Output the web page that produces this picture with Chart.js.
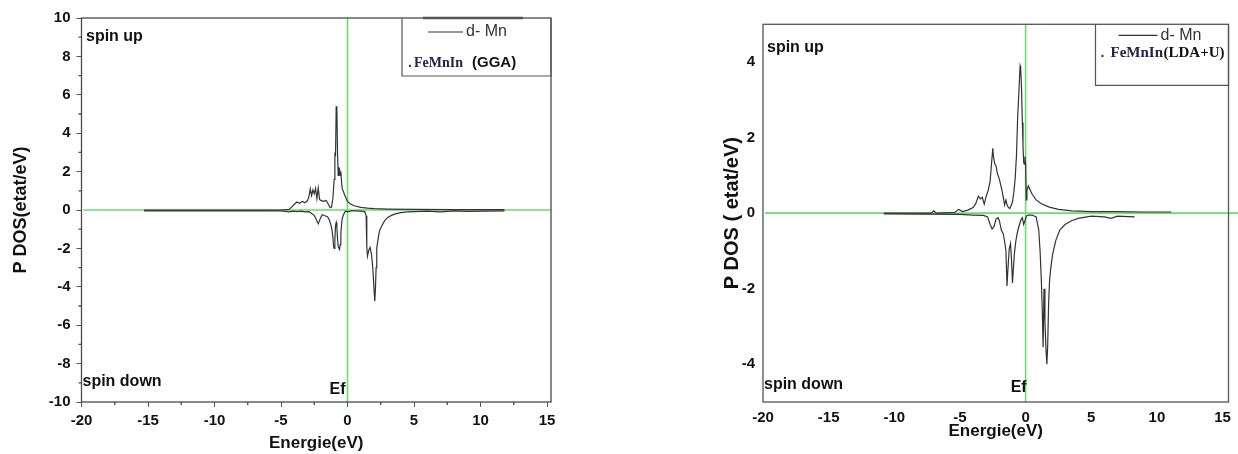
<!DOCTYPE html>
<html>
<head>
<meta charset="utf-8">
<script src="https://cdn.jsdelivr.net/npm/chart.js@4.4.0/dist/chart.umd.min.js"></script>
<style>
  body { margin: 0; background: #fff; }
  .box { position: absolute; top: 0; width: 619px; height: 454px; }
  #left { left: 0; }
  #right { left: 619px; }
</style>
</head>
<body>
<div class="box" id="left"><canvas id="c1" width="619" height="454"></canvas></div>
<div class="box" id="right"><canvas id="c2" width="619" height="454"></canvas></div>
<script>
// ticks
var xTicks = [-20, -15, -10, -5, 0, 5, 10, 15];
var ggaYTicks = [-10, -8, -6, -4, -2, 0, 2, 4, 6, 8, 10];
var ldaYTicks = [-4, -2, 0, 2, 4];

// FeMnIn (GGA) d-Mn, spin up
var ggaUpE = [-15.3, -5.0, -4.4, -4.2, -4.0, -3.8, -3.6, -3.4, -3.2, -3.0,
              -2.9, -2.8, -2.7, -2.6, -2.5, -2.4, -2.3, -2.2, -2.1, -2.0,
              -1.8, -1.6, -1.4, -1.3, -1.2, -1.1, -1.0, -0.95, -0.9, -0.85,
              -0.8, -0.75, -0.7, -0.65, -0.6, -0.55, -0.5, -0.45, -0.4, -0.3,
              -0.2, -0.1, 0.0, 0.2, 0.5, 1.0, 1.5, 2.0, 3.0, 5.0,
              8.0, 11.8];
var ggaUp = [0.0, 0.0, 0.03, 0.15, 0.3, 0.42, 0.35, 0.45, 0.38, 0.5,
             0.7, 1.1, 0.75, 1.05, 0.85, 1.12, 0.6, 1.15, 0.55, 0.5,
             0.45, 0.5, 0.25, 0.12, 0.15, 0.6, 1.6, 3.0, 2.8, 5.4,
             5.2, 3.0, 1.8, 2.2, 2.15, 1.8, 2.0, 1.5, 1.1, 0.95,
             0.75, 0.6, 0.45, 0.32, 0.22, 0.14, 0.1, 0.07, 0.05, 0.03,
             0.02, 0.02];

// FeMnIn (GGA) d-Mn, spin down
var ggaDownE = [-15.3, -5.0, -4.4, -4.1, -3.8, -3.5, -3.2, -2.9, -2.7, -2.5,
                -2.35, -2.2, -2.05, -1.9, -1.7, -1.5, -1.35, -1.2, -1.1, -1.05,
                -1.0, -0.95, -0.9, -0.85, -0.8, -0.75, -0.7, -0.6, -0.55, -0.5,
                -0.45, -0.4, -0.3, -0.2, -0.1, 0.0, 0.3, 0.7, 1.0, 1.3,
                1.4, 1.45, 1.5, 1.6, 1.7, 1.8, 1.9, 2.0, 2.05, 2.1,
                2.15, 2.2, 2.3, 2.4, 2.6, 2.8, 3.0, 3.3, 3.6, 4.0,
                4.5, 5.0, 6.0, 7.0, 8.0, 9.0, 11.8];
var ggaDown = [-0.05, -0.05, -0.1, -0.06, -0.08, -0.06, -0.1, -0.08, -0.18, -0.28,
               -0.5, -0.72, -0.45, -0.25, -0.3, -0.35, -0.55, -0.9, -1.4, -1.9,
               -2.0, -1.5, -0.8, -0.65, -0.9, -1.5, -1.9, -2.05, -1.8, -1.2,
               -0.8, -0.45, -0.25, -0.1, -0.05, -0.1, -0.05, -0.05, -0.06, -0.08,
               -0.3, -1.9, -2.4, -2.1, -1.95, -2.3, -3.0, -4.2, -4.75, -4.1,
               -3.0, -2.0, -1.5, -1.1, -0.8, -0.55, -0.4, -0.28, -0.2, -0.14,
               -0.1, -0.08, -0.06, -0.1, -0.05, -0.07, -0.05];

// FeMnIn (LDA+U) d-Mn, spin up
var ldaUpE = [-10.8, -7.2, -7.0, -6.8, -5.4, -5.1, -4.8, -4.4, -4.0, -3.8,
              -3.6, -3.45, -3.3, -3.15, -3.0, -2.85, -2.7, -2.6, -2.5, -2.45,
              -2.35, -2.25, -2.15, -2.0, -1.9, -1.8, -1.7, -1.6, -1.5, -1.4,
              -1.3, -1.2, -1.1, -1.0, -0.9, -0.8, -0.7, -0.6, -0.5, -0.42,
              -0.38, -0.32, -0.25, -0.2, -0.15, -0.1, -0.05, 0.0, 0.05, 0.1,
              0.2, 0.3, 0.5, 0.8, 1.2, 1.8, 2.5, 3.5, 5.0, 7.0,
              9.0, 11.1];
var ldaUp = [0.0, 0.0, 0.06, 0.0, 0.02, 0.1, 0.04, 0.08, 0.15, 0.25,
             0.45, 0.38, 0.42, 0.24, 0.45, 0.6, 0.85, 1.3, 1.72, 1.5,
             1.3, 1.25, 1.05, 0.9, 0.75, 0.6, 0.42, 0.22, 0.35, 0.2,
             0.15, 0.12, 0.2, 0.3, 0.55, 0.9, 1.5, 2.6, 3.3, 3.9,
             3.85, 3.4, 2.4, 1.8, 1.35, 1.3, 1.5, 1.3, 0.35, 0.6,
             0.72, 0.65, 0.5, 0.35, 0.25, 0.16, 0.1, 0.06, 0.04, 0.04,
             0.03, 0.03];

// FeMnIn (LDA+U) d-Mn, spin down
var ldaDownE = [-10.8, -5.0, -4.0, -3.2, -2.9, -2.7, -2.55, -2.4, -2.25, -2.1,
                -2.0, -1.85, -1.7, -1.6, -1.5, -1.42, -1.35, -1.25, -1.15, -1.08,
                -1.0, -0.92, -0.85, -0.75, -0.65, -0.55, -0.45, -0.35, -0.25, -0.15,
                -0.05, 0.05, 0.2, 0.5, 0.8, 1.0, 1.1, 1.2, 1.27, 1.33,
                1.4, 1.47, 1.55, 1.62, 1.68, 1.75, 1.82, 1.9, 2.05, 2.3,
                2.6, 3.0, 3.5, 4.0, 5.0, 6.0, 6.5, 7.0, 8.3];
var ldaDown = [-0.02, -0.03, -0.05, -0.06, -0.1, -0.3, -0.42, -0.35, -0.15, -0.12,
               -0.2, -0.45, -0.55, -0.75, -1.0, -1.93, -1.5, -0.95, -0.8, -1.2,
               -1.85, -1.4, -1.05, -0.75, -0.55, -0.4, -0.28, -0.17, -0.12, -0.3,
               -0.2, -0.08, -0.05, -0.05, -0.1, -0.45, -1.0, -1.8, -2.6, -3.55,
               -2.0, -2.9, -3.6, -4.0, -3.5, -2.4, -1.8, -1.5, -1.1, -0.72,
               -0.45, -0.3, -0.2, -0.14, -0.08, -0.1, -0.14, -0.08, -0.1];

var sans = '"Liberation Sans", Arial, sans-serif';
var serif = '"Liberation Serif", "Times New Roman", serif';
var green = '#66e066';
var lineCol = '#333';

function pts(e, v) {
    return e.map(function (x, i) { return { x: x, y: v[i] }; });
}

function setTicks(list) {
    return function (scale) {
        scale.ticks = list.map(function (v) { return { value: v }; });
    };
}

// green Ef / zero lines
function refLines(toEdge) {
    return {
        id: 'refLines',
        beforeDatasetsDraw: function (chart) {
            var ctx = chart.ctx, a = chart.chartArea;
            var x0 = chart.scales.x.getPixelForValue(0);
            var y0 = chart.scales.y.getPixelForValue(0);
            ctx.save();
            ctx.strokeStyle = green;
            ctx.lineWidth = 1.6;
            ctx.beginPath();
            ctx.moveTo(x0, a.top);
            ctx.lineTo(x0, a.bottom);
            ctx.moveTo(a.left + 2, y0);
            ctx.lineTo(toEdge ? chart.width : a.right, y0);
            ctx.stroke();
            ctx.restore();
        }
    };
}

// frame, minor ticks, spin labels and legend box
function decor(c) {
    return {
        id: 'decor',
        afterDraw: function (chart) {
            var ctx = chart.ctx, a = chart.chartArea;
            var xs = chart.scales.x, ys = chart.scales.y;
            ctx.save();
            ctx.strokeStyle = c.frame;
            ctx.lineWidth = 1.3;
            ctx.strokeRect(a.left, a.top, a.right - a.left, a.bottom - a.top);

            if (c.yMinor) {
                ctx.beginPath();
                for (var i = 0; i < c.yMinor.length - 1; i++) {
                    var yv = ys.getPixelForValue((c.yMinor[i] + c.yMinor[i + 1]) / 2);
                    ctx.moveTo(a.left - 3, yv); ctx.lineTo(a.left, yv);
                }
                for (var j = 0; j < xTicks.length - 1; j++) {
                    var xv = xs.getPixelForValue((xTicks[j] + xTicks[j + 1]) / 2);
                    ctx.moveTo(xv, a.bottom); ctx.lineTo(xv, a.bottom + 3);
                }
                ctx.stroke();
            }

            ctx.fillStyle = '#111';
            ctx.font = 'bold 16px ' + sans;
            ctx.textBaseline = 'middle';
            ctx.textAlign = 'left';
            ctx.fillText('spin up', a.left + c.upX, a.top + c.upY);
            ctx.fillText('spin down', a.left + c.downX, a.bottom - c.downY);
            ctx.textAlign = 'right';
            ctx.fillText('Ef', xs.getPixelForValue(0) + c.efX, a.bottom - c.efY);

            // legend
            var L = a.right - c.legW, T = a.top, B = a.top + c.legH;
            ctx.strokeStyle = '#555';
            ctx.lineWidth = 1.2;
            ctx.beginPath();
            ctx.moveTo(L, T); ctx.lineTo(L, B); ctx.lineTo(a.right, B); ctx.lineTo(a.right, T);
            ctx.stroke();
            if (c.thickTop) {
                ctx.lineWidth = 2.5;
                ctx.beginPath();
                ctx.moveTo(L + 21, T); ctx.lineTo(L + 121, T);
                ctx.stroke();
            }
            ctx.strokeStyle = lineCol;
            ctx.lineWidth = 1.2;
            ctx.beginPath();
            ctx.moveTo(L + c.s0, T + c.row1); ctx.lineTo(L + c.s1, T + c.row1);
            ctx.stroke();
            ctx.textAlign = 'left';
            ctx.fillStyle = '#333';
            ctx.font = '16px ' + sans;
            ctx.fillText('d- Mn', L + c.s1 + 3, T + c.row1);
            ctx.font = 'bold 14px ' + sans;
            ctx.fillText('.', L + c.dotX, T + c.row2);
            ctx.fillStyle = '#22224a';
            ctx.font = 'bold ' + c.nameSize + 'px ' + serif;
            ctx.fillText('FeMnIn', L + c.nameX, T + c.row2);
            ctx.fillStyle = '#111';
            ctx.font = c.calcFont;
            ctx.fillText(c.calc, L + c.calcX, T + c.row2);
            ctx.restore();
        }
    };
}

function makeChart(id, up, down, yMin, yMax, yTicks, xMax, lay, withTicks, yTitle, yTitleSize, yTitlePad, xTitlePad, xTickPad, extra) {
    var tickFont = { family: sans, size: 15, weight: 'bold' };
    var grid = withTicks
        ? { drawOnChartArea: false, tickLength: 5, color: '#555', tickColor: '#555' }
        : { display: false, drawTicks: false, tickLength: 0 };
    return new Chart(document.getElementById(id), {
        type: 'line',
        data: {
            datasets: [
                { data: up, borderColor: lineCol, borderWidth: 1.2, pointRadius: 0, tension: 0, fill: false },
                { data: down, borderColor: lineCol, borderWidth: 1.2, pointRadius: 0, tension: 0, fill: false }
            ]
        },
        options: {
            responsive: false,
            animation: false,
            layout: { padding: { left: 0, right: lay.right, top: lay.top, bottom: 0 } },
            plugins: { legend: { display: false }, tooltip: { enabled: false } },
            scales: {
                x: {
                    type: 'linear', min: -20, max: xMax,
                    afterBuildTicks: setTicks(xTicks),
                    afterFit: function (s) { s.height = 52; },
                    grid: grid,
                    border: { display: false },
                    ticks: { font: tickFont, color: '#111', padding: xTickPad, maxRotation: 0, autoSkip: false },
                    title: { display: true, text: 'Energie(eV)', color: '#111',
                             font: { family: sans, size: 17, weight: 'bold' },
                             padding: { top: 0, bottom: xTitlePad } }
                },
                y: {
                    type: 'linear', min: yMin, max: yMax,
                    afterBuildTicks: setTicks(yTicks),
                    afterFit: function (s) { s.width = lay.yw; },
                    grid: grid,
                    border: { display: false },
                    ticks: { font: tickFont, color: '#111', padding: withTicks ? 6 : 8 },
                    title: { display: true, text: yTitle, color: '#111',
                             font: { family: sans, size: yTitleSize, weight: 'bold' },
                             padding: { top: yTitlePad, bottom: 0 } }
                }
            }
        },
        plugins: extra
    });
}

makeChart('c1', pts(ggaUpE, ggaUp), pts(ggaDownE, ggaDown), -10, 10, ggaYTicks, 15.3,
    { right: 68, top: 18, yw: 81.5 }, true, 'P DOS(etat/eV)', 18, 10, 0, 5,
    [refLines(false), decor({
        frame: '#4a4a4a', yMinor: ggaYTicks,
        upX: 4.5, upY: 19, downX: 1, downY: 20, efX: -2, efY: 12,
        legW: 149, legH: 58, thickTop: true,
        row1: 14, row2: 45, s0: 26, s1: 61, dotX: 6,
        nameX: 12, nameSize: 14, calc: '(GGA)', calcFont: 'bold 15px ' + sans, calcX: 70
    })]);

makeChart('c2', pts(ldaUpE, ldaUp), pts(ldaDownE, ldaDown), -5, 5, ldaYTicks, 15.45,
    { right: 5, top: 24.3, yw: 144 }, false, 'P DOS ( etat/eV)', 20, 101, 12, 7,
    [refLines(true), decor({
        frame: '#555', yMinor: null,
        upX: 4, upY: 23, downX: 1, downY: 17, efX: 1, efY: 14,
        legW: 133, legH: 61, thickTop: false,
        row1: 11, row2: 29, s0: 23, s1: 62, dotX: 5,
        nameX: 15, nameSize: 15, calc: '(LDA+U)', calcFont: 'bold 15px ' + serif, calcX: 68
    })]);
</script>
</body>
</html>
